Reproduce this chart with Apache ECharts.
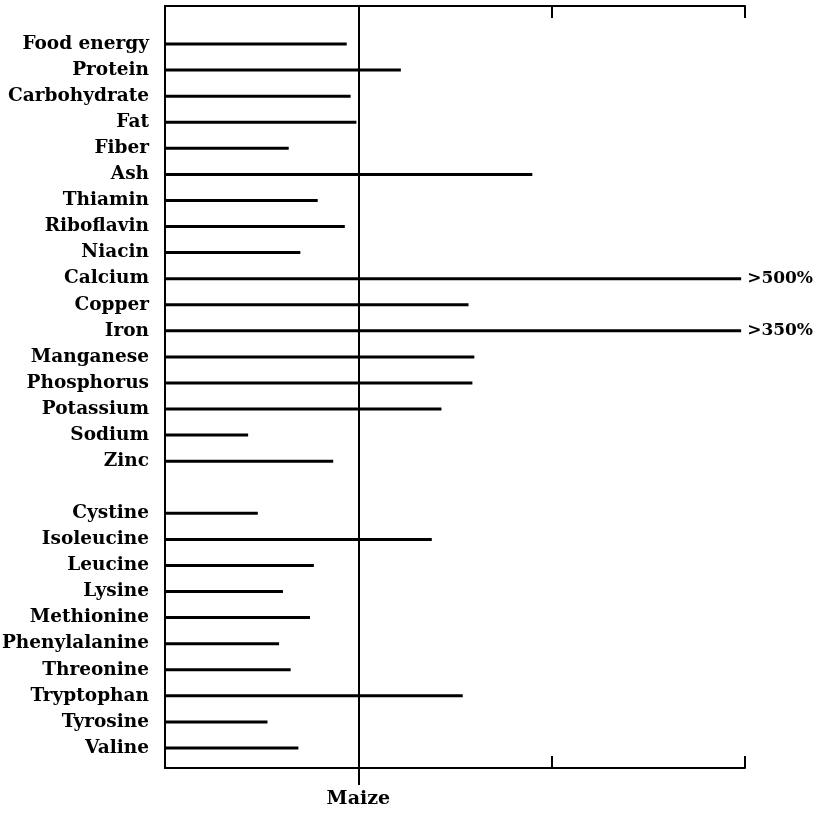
<!DOCTYPE html>
<html>
<head>
<meta charset="utf-8">
<script src="https://cdn.jsdelivr.net/npm/echarts@6/dist/echarts.min.js"></script>
<style>
html,body{margin:0;padding:0;background:#fff;}
#chart{width:817px;height:815px;}
</style>
</head>
<body>
<div id="chart"></div>
<script>
// Categories (top to bottom); '' is the blank row between minerals and amino acids
var categories = ['Food energy','Protein','Carbohydrate','Fat','Fiber','Ash','Thiamin','Riboflavin','Niacin',
  'Calcium','Copper','Iron','Manganese','Phosphorus','Potassium','Sodium','Zinc','',
  'Cystine','Isoleucine','Leucine','Lysine','Methionine','Phenylalanine','Threonine','Tryptophan','Tyrosine','Valine'];
// Percent of maize (maize = 100)
var values = [94,122,96,99,64,190,79,93,70,
  298,157,298,160,159,143,43,87,null,
  48,138,77,61,75,59,65,154,53,69];
// Off-scale annotations
var offScale = {'Calcium':'>500%','Iron':'>350%'};
var axisTicks = [0,100,200,300];
var referenceValue = 100;
var referenceLabel = 'Maize';

var font = 'DejaVu Serif';
var chart = echarts.init(document.getElementById('chart'));
var barData = values.map(function(v,i){
  var item = {value: v};
  if (offScale[categories[i]]) {
    item.label = {show:true, position:'right', distance:6, formatter: offScale[categories[i]],
      color:'#000', fontFamily:font, fontSize:17, fontWeight:'bold'};
  }
  return item;
});
chart.setOption({
  animation:false,
  backgroundColor:'#fff',
  grid:[
    {left:165, right:72, top:31, bottom:54, containLabel:false, outerBoundsMode:'none'},
    {left:165, right:72, top:6, bottom:47, containLabel:false, outerBoundsMode:'none'}
  ],
  xAxis:[
    {gridIndex:0, type:'value', min:0, max:300, show:false},
    {gridIndex:1, type:'value', min:0, max:300, interval:100, position:'bottom',
      axisLine:{show:true, lineStyle:{color:'#000', width:2}},
      axisTick:{show:true, inside:true, length:12, customValues:[200,300], lineStyle:{color:'#000', width:2}},
      axisLabel:{show:true, customValues:[referenceValue], margin:22, color:'#000', fontFamily:font, fontSize:19, fontWeight:'bold',
        formatter:function(v){return v===referenceValue?referenceLabel:'';}},
      splitLine:{show:false}},
    {gridIndex:1, type:'value', min:0, max:300, interval:100, position:'bottom',
      axisLine:{show:false},
      axisTick:{show:true, inside:false, length:17, customValues:[referenceValue], lineStyle:{color:'#000', width:2}},
      axisLabel:{show:false}, splitLine:{show:false}},
    {gridIndex:1, type:'value', min:0, max:300, interval:100, position:'top',
      axisLine:{show:true, lineStyle:{color:'#000', width:2}},
      axisTick:{show:true, inside:true, length:12, customValues:[200,300], lineStyle:{color:'#000', width:2}},
      axisLabel:{show:false}, splitLine:{show:false}}
  ],
  yAxis:[
    {gridIndex:0, type:'category', data:categories, inverse:true,
      axisLine:{show:false}, axisTick:{show:false},
      axisLabel:{color:'#000', fontFamily:font, fontSize:18.5, fontWeight:'bold', margin:16}},
    {gridIndex:1, type:'value', min:0, max:1,
      axisLine:{show:true, lineStyle:{color:'#000', width:2}},
      axisTick:{show:false}, axisLabel:{show:false}, splitLine:{show:false}}
  ],
  series:[
    {type:'bar', xAxisIndex:0, yAxisIndex:0, data:barData, barWidth:3,
      itemStyle:{color:'#000'}, silent:true},
    {type:'line', xAxisIndex:1, yAxisIndex:1, data:[], silent:true,
      markLine:{silent:true, symbol:['none','none'], label:{show:false},
        lineStyle:{color:'#000', width:2, type:'solid'},
        data:[{xAxis:referenceValue}]}}
  ]
});
</script>
</body>
</html>
